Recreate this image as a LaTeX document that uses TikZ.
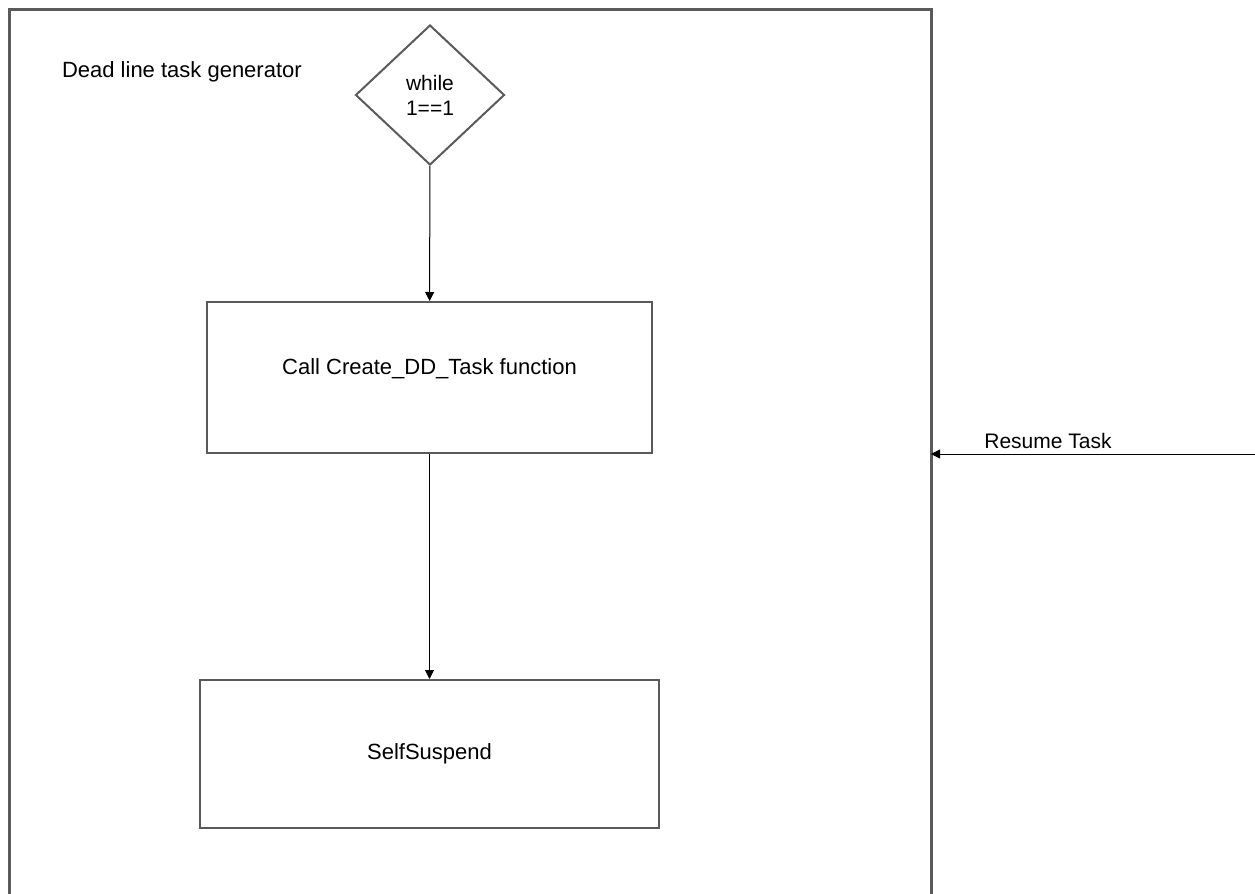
\documentclass[tikz,border=0pt]{standalone}
\usepackage{fontspec}
\setmainfont{Liberation Sans}
\usepackage{tikz}
\usetikzlibrary{shapes.geometric, arrows.meta, positioning}
\definecolor{framegray}{RGB}{90, 90, 90}

\begin{document}
\begin{tikzpicture}[
    x=0.5pt, y=-0.5pt,
    font=\fontsize{11}{13}\selectfont,
    box/.style={rectangle, draw=framegray, line width=1pt, align=center},
    decision/.style={diamond, draw=framegray, line width=1pt, inner sep=0pt, minimum width=74.5pt, minimum height=70pt, align=center, font=\fontsize{10.5}{12.5}\selectfont},
    arrow/.style={-{Triangle[length=4.5pt, width=4.5pt]}, line width=0.5pt}
]
    \useasboundingbox (0,0) rectangle (1255,894);
    % container of the task
    \draw[framegray, line width=1.5pt] (9,900) -- (9,9) -- (931,9) -- (931,900);
    \coordinate (frameeast) at (931,454);
    \coordinate (resumein) at (1256,454);

    \node[anchor=west] (title) at (55,72) {Dead line task generator};
    \node[decision] (loop) at (430,95) {while\\1==1};
    \node[box, minimum width=222.5pt, minimum height=75.5pt, text depth=11pt] (create) at (429.5,377.5) {Call Create\_DD\_Task function};
    \node[box, minimum width=229.5pt, minimum height=74pt] (suspend) at (429.5,754) {SelfSuspend};

    \draw[arrow] (loop) -- (create);
    \draw[arrow] (create) -- (suspend);
    \draw[arrow] (resumein) -- node[pos=0.64, above=-1pt, font=\fontsize{10.5}{12.5}\selectfont] {Resume Task} (frameeast);
\end{tikzpicture}
\end{document}
